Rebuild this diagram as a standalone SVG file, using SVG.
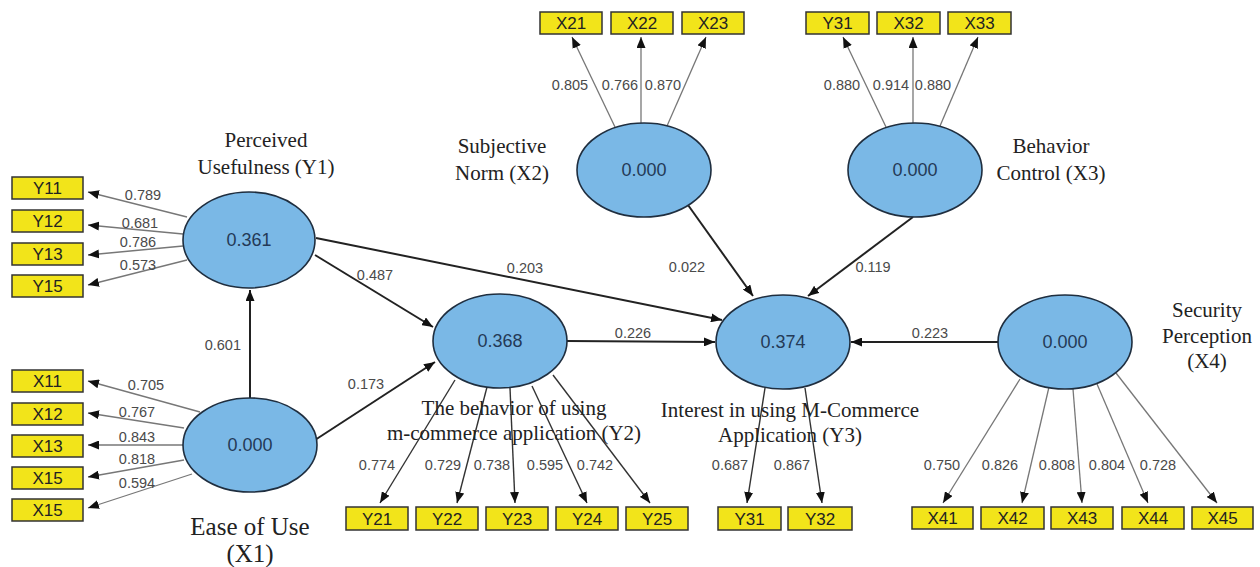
<svg xmlns="http://www.w3.org/2000/svg" width="1260" height="567" viewBox="0 0 1260 567">
<style>
.lv{fill:#7ab8e6;stroke:#1f2e3f;stroke-width:1.6}
.lvt{font-family:"Liberation Sans",Arial,sans-serif;font-size:18px;fill:#243a57;text-anchor:middle}
.box{fill:#f2e41a;stroke:#333;stroke-width:1.5}
.bt{font-family:"Liberation Sans",Arial,sans-serif;font-size:17px;fill:#222;text-anchor:middle}
.num{font-family:"Liberation Sans",Arial,sans-serif;font-size:14.5px;fill:#4a4a4a;text-anchor:middle}
.lab{font-family:"Liberation Serif","Times New Roman",serif;font-size:21px;fill:#222;text-anchor:middle}
.big{font-family:"Liberation Serif","Times New Roman",serif;font-size:25px;fill:#222;text-anchor:middle}
.path{stroke:#222;stroke-width:2;fill:none;marker-end:url(#ah)}
.ind{stroke:#777;stroke-width:1.3;fill:none;marker-end:url(#ah)}
.ind2{stroke:#333;stroke-width:1.4;fill:none;marker-end:url(#ah)}
</style>
<defs>
<marker id="ah" markerWidth="11" markerHeight="9" refX="11" refY="4.5" orient="auto" markerUnits="userSpaceOnUse">
<path d="M0,0 L11,4.5 L0,9 z" fill="#111"/>
</marker>
</defs>
<rect width="1260" height="567" fill="#fff"/>

<g id="connectors">
<line class="path" x1="250" y1="398" x2="250" y2="290"/>
<line class="path" x1="315" y1="255" x2="433" y2="327"/>
<line class="path" x1="316" y1="238" x2="722" y2="320"/>
<line class="path" x1="567" y1="341" x2="715" y2="342"/>
<line class="path" x1="315" y1="440" x2="435" y2="362"/>
<line class="path" x1="688" y1="205" x2="753" y2="296"/>
<line class="path" x1="913" y1="217" x2="808" y2="296"/>
<line class="path" x1="998" y1="342" x2="851" y2="342"/>
<line class="ind" x1="187" y1="217" x2="88" y2="192"/>
<line class="ind" x1="183" y1="234" x2="88" y2="225"/>
<line class="ind" x1="183" y1="246" x2="88" y2="255"/>
<line class="ind" x1="187" y1="260" x2="88" y2="285"/>
<line class="ind" x1="200" y1="412" x2="88" y2="381"/>
<line class="ind" x1="184" y1="428" x2="88" y2="413"/>
<line class="ind" x1="183" y1="445" x2="88" y2="445"/>
<line class="ind" x1="184" y1="460" x2="88" y2="477"/>
<line class="ind" x1="192" y1="474" x2="88" y2="508"/>
<line class="ind" x1="615" y1="127" x2="572" y2="37"/>
<line class="ind" x1="641" y1="123" x2="641" y2="37"/>
<line class="ind" x1="667" y1="126" x2="706" y2="37"/>
<line class="ind" x1="886" y1="127" x2="843" y2="37"/>
<line class="ind" x1="913" y1="123" x2="913" y2="37"/>
<line class="ind" x1="940" y1="126" x2="978" y2="37"/>
<line class="ind2" x1="455" y1="380" x2="380" y2="503"/>
<line class="ind2" x1="487" y1="387" x2="457" y2="503"/>
<line class="ind2" x1="510" y1="388" x2="515" y2="503"/>
<line class="ind2" x1="532" y1="386" x2="587" y2="503"/>
<line class="ind2" x1="553" y1="375" x2="650" y2="503"/>
<line class="ind2" x1="765" y1="388" x2="747" y2="503"/>
<line class="ind2" x1="805" y1="388" x2="822" y2="503"/>
<line class="ind" x1="1020" y1="379" x2="943" y2="503"/>
<line class="ind" x1="1049" y1="387" x2="1022" y2="503"/>
<line class="ind" x1="1073" y1="389" x2="1082" y2="503"/>
<line class="ind" x1="1097" y1="384" x2="1148" y2="503"/>
<line class="ind" x1="1116" y1="373" x2="1217" y2="503"/>
<text class="num" x="241" y="350" style="text-anchor:end">0.601</text>
<text class="num" x="375" y="280">0.487</text>
<text class="num" x="525" y="273">0.203</text>
<text class="num" x="633" y="338">0.226</text>
<text class="num" x="366" y="389">0.173</text>
<text class="num" x="687" y="272">0.022</text>
<text class="num" x="873" y="272">0.119</text>
<text class="num" x="930" y="338">0.223</text>
<text class="num" x="143" y="200">0.789</text>
<text class="num" x="140" y="228">0.681</text>
<text class="num" x="138" y="247">0.786</text>
<text class="num" x="138" y="270">0.573</text>
<text class="num" x="146" y="390">0.705</text>
<text class="num" x="137" y="417">0.767</text>
<text class="num" x="137" y="442">0.843</text>
<text class="num" x="137" y="464">0.818</text>
<text class="num" x="137" y="488">0.594</text>
<text class="num" x="570" y="90">0.805</text>
<text class="num" x="620" y="90">0.766</text>
<text class="num" x="663" y="90">0.870</text>
<text class="num" x="842" y="90">0.880</text>
<text class="num" x="891" y="90">0.914</text>
<text class="num" x="933" y="90">0.880</text>
<text class="num" x="377" y="470">0.774</text>
<text class="num" x="443" y="470">0.729</text>
<text class="num" x="492" y="470">0.738</text>
<text class="num" x="545" y="470">0.595</text>
<text class="num" x="595" y="470">0.742</text>
<text class="num" x="730" y="470">0.687</text>
<text class="num" x="792" y="470">0.867</text>
<text class="num" x="942" y="470">0.750</text>
<text class="num" x="1000" y="470">0.826</text>
<text class="num" x="1057" y="470">0.808</text>
<text class="num" x="1107" y="470">0.804</text>
<text class="num" x="1158" y="470">0.728</text>
</g>

<g id="Y1">
<ellipse class="lv" cx="249" cy="240" rx="66" ry="48"/>
<text class="lvt" x="249" y="246">0.361</text>
<text class="lab" x="266" y="147">Perceived</text>
<text class="lab" x="266" y="174">Usefulness (Y1)</text>
</g>
<g id="X1">
<ellipse class="lv" cx="250" cy="445" rx="67" ry="47"/>
<text class="lvt" x="250" y="451">0.000</text>
<text class="big" x="250" y="535">Ease of Use</text>
<text class="big" x="250" y="562">(X1)</text>
</g>
<g id="Y2">
<ellipse class="lv" cx="500" cy="341" rx="67" ry="47"/>
<text class="lvt" x="500" y="347">0.368</text>
<text class="lab" x="514" y="415">The behavior of using</text>
<text class="lab" x="514" y="440">m-commerce application (Y2)</text>
</g>
<g id="Y3">
<ellipse class="lv" cx="783" cy="342" rx="67" ry="47"/>
<text class="lvt" x="783" y="348">0.374</text>
<text class="lab" x="790" y="417">Interest in using M-Commerce</text>
<text class="lab" x="790" y="442">Application (Y3)</text>
</g>
<g id="X2">
<ellipse class="lv" cx="644" cy="170" rx="67" ry="47"/>
<text class="lvt" x="644" y="176">0.000</text>
<text class="lab" x="502" y="153">Subjective</text>
<text class="lab" x="502" y="180">Norm (X2)</text>
</g>
<g id="X3">
<ellipse class="lv" cx="915" cy="170" rx="67" ry="47"/>
<text class="lvt" x="915" y="176">0.000</text>
<text class="lab" x="1051" y="153">Behavior</text>
<text class="lab" x="1051" y="180">Control (X3)</text>
</g>
<g id="X4">
<ellipse class="lv" cx="1065" cy="342" rx="67" ry="47"/>
<text class="lvt" x="1065" y="348">0.000</text>
<text class="lab" x="1207" y="317">Security</text>
<text class="lab" x="1207" y="343">Perception</text>
<text class="lab" x="1207" y="368">(X4)</text>
</g>

<g id="ind-Y1">
<rect class="box" x="12" y="177" width="71" height="22"/><text class="bt" x="47.5" y="194">Y11</text>
<rect class="box" x="12" y="210" width="71" height="22"/><text class="bt" x="47.5" y="227">Y12</text>
<rect class="box" x="12" y="243" width="71" height="22"/><text class="bt" x="47.5" y="260">Y13</text>
<rect class="box" x="12" y="275" width="71" height="22"/><text class="bt" x="47.5" y="292">Y15</text>
</g>
<g id="ind-X1">
<rect class="box" x="12" y="370" width="71" height="22"/><text class="bt" x="47.5" y="387">X11</text>
<rect class="box" x="12" y="403" width="71" height="22"/><text class="bt" x="47.5" y="420">X12</text>
<rect class="box" x="12" y="435" width="71" height="22"/><text class="bt" x="47.5" y="452">X13</text>
<rect class="box" x="12" y="467" width="71" height="22"/><text class="bt" x="47.5" y="484">X15</text>
<rect class="box" x="12" y="499" width="71" height="22"/><text class="bt" x="47.5" y="516">X15</text>
</g>
<g id="ind-X2">
<rect class="box" x="540" y="12" width="62" height="22"/><text class="bt" x="571" y="29">X21</text>
<rect class="box" x="611" y="12" width="62" height="22"/><text class="bt" x="642" y="29">X22</text>
<rect class="box" x="682" y="12" width="62" height="22"/><text class="bt" x="713" y="29">X23</text>
</g>
<g id="ind-X3">
<rect class="box" x="806" y="12" width="63" height="22"/><text class="bt" x="837.5" y="29">Y31</text>
<rect class="box" x="877" y="12" width="63" height="22"/><text class="bt" x="908.5" y="29">X32</text>
<rect class="box" x="948" y="12" width="63" height="22"/><text class="bt" x="979.5" y="29">X33</text>
</g>
<g id="ind-Y2">
<rect class="box" x="346" y="507" width="62" height="23"/><text class="bt" x="377" y="525">Y21</text>
<rect class="box" x="416" y="507" width="62" height="23"/><text class="bt" x="447" y="525">Y22</text>
<rect class="box" x="486" y="507" width="62" height="23"/><text class="bt" x="517" y="525">Y23</text>
<rect class="box" x="556" y="507" width="62" height="23"/><text class="bt" x="587" y="525">Y24</text>
<rect class="box" x="626" y="507" width="62" height="23"/><text class="bt" x="657" y="525">Y25</text>
</g>
<g id="ind-Y3">
<rect class="box" x="718" y="507" width="63" height="23"/><text class="bt" x="749.5" y="525">Y31</text>
<rect class="box" x="788" y="507" width="64" height="23"/><text class="bt" x="820" y="525">Y32</text>
</g>
<g id="ind-X4">
<rect class="box" x="912" y="507" width="61" height="22"/><text class="bt" x="942.5" y="524">X41</text>
<rect class="box" x="981" y="507" width="63" height="22"/><text class="bt" x="1012.5" y="524">X42</text>
<rect class="box" x="1051" y="507" width="62" height="22"/><text class="bt" x="1082" y="524">X43</text>
<rect class="box" x="1122" y="507" width="62" height="22"/><text class="bt" x="1153" y="524">X44</text>
<rect class="box" x="1192" y="507" width="61" height="22"/><text class="bt" x="1222.5" y="524">X45</text>
</g>
</svg>
